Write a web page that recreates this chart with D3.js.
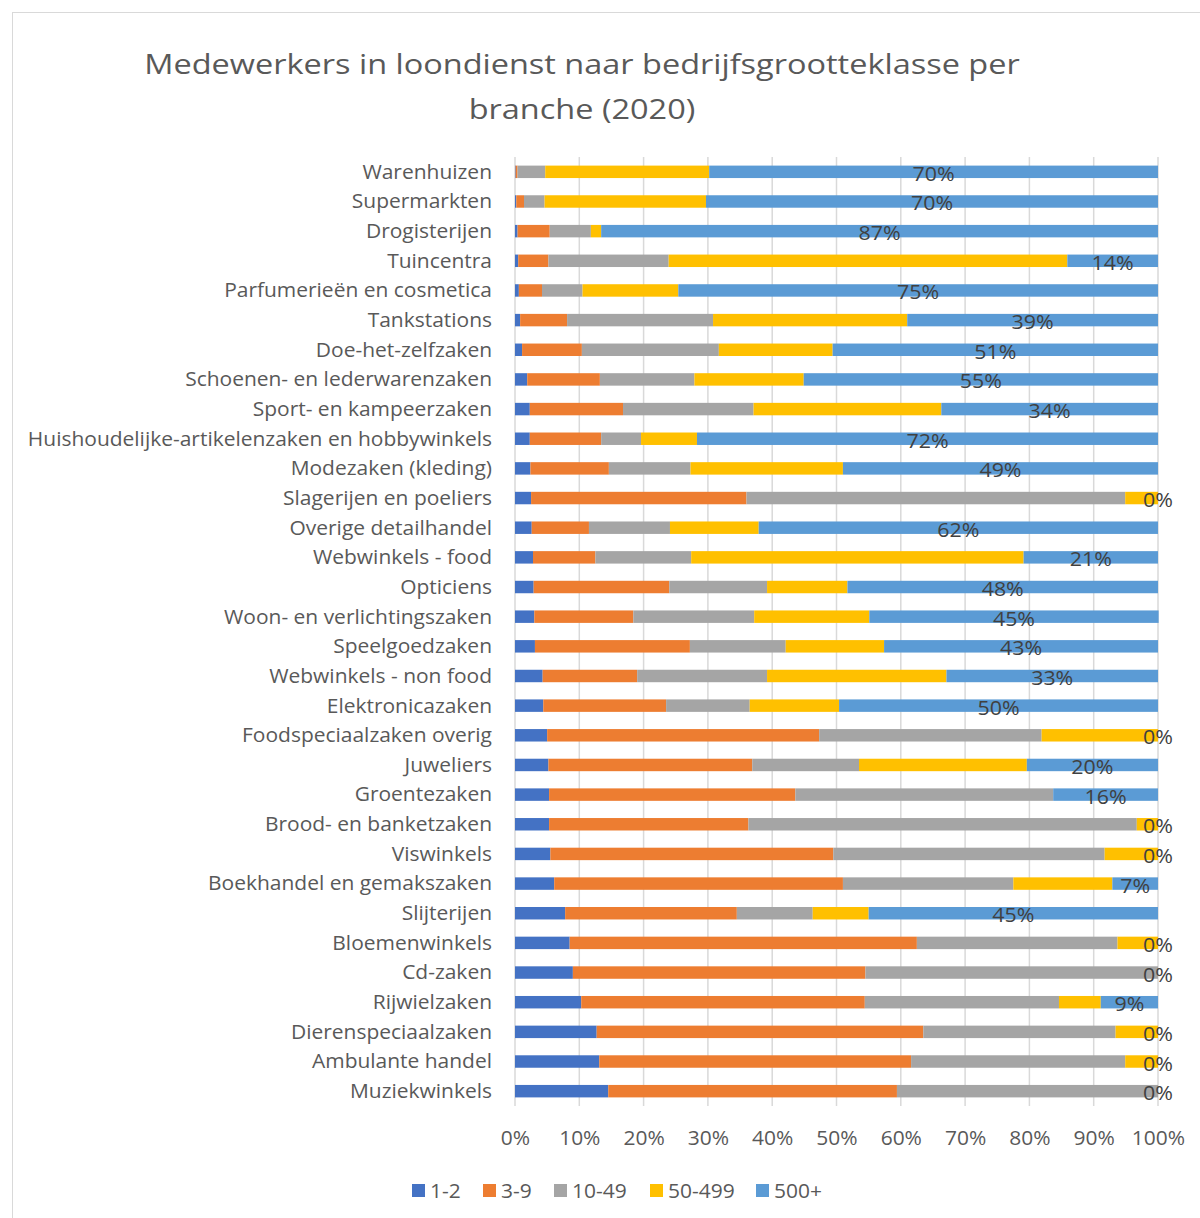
<!DOCTYPE html>
<html>
<head>
<meta charset="utf-8">
<script src="https://cdn.jsdelivr.net/npm/d3@7"></script>
<style>
  html, body { margin: 0; padding: 0; background: #fff; }
  svg { display: block; font-family: "Open Sans", "DejaVu Sans", sans-serif; }
</style>
</head>
<body>
<svg id="chart" width="1200" height="1218"></svg>
<script>
// Branches, top to bottom
const categories = [
  "Warenhuizen", "Supermarkten", "Drogisterijen", "Tuincentra",
  "Parfumerieën en cosmetica", "Tankstations", "Doe-het-zelfzaken",
  "Schoenen- en lederwarenzaken", "Sport- en kampeerzaken",
  "Huishoudelijke-artikelenzaken en hobbywinkels", "Modezaken (kleding)",
  "Slagerijen en poeliers", "Overige detailhandel", "Webwinkels - food",
  "Opticiens", "Woon- en verlichtingszaken", "Speelgoedzaken",
  "Webwinkels - non food", "Elektronicazaken", "Foodspeciaalzaken overig",
  "Juweliers", "Groentezaken", "Brood- en banketzaken", "Viswinkels",
  "Boekhandel en gemakszaken", "Slijterijen", "Bloemenwinkels", "Cd-zaken",
  "Rijwielzaken", "Dierenspeciaalzaken", "Ambulante handel", "Muziekwinkels"
];

// Share of employees (%) per company size class
const size1to2 = [0.1, 0.2, 0.4, 0.5, 0.6, 0.8, 1.1, 1.9, 2.3, 2.3, 2.4, 2.5, 2.6, 2.8, 2.9, 3.0, 3.1, 4.3, 4.4, 5.0, 5.2, 5.3, 5.3, 5.5, 6.1, 7.8, 8.5, 9.0, 10.3, 12.7, 13.1, 14.5];
const size3to9 = [0.3, 1.2, 5.0, 4.7, 3.6, 7.3, 9.3, 11.3, 14.5, 11.1, 12.2, 33.5, 8.9, 9.7, 21.1, 15.4, 24.1, 14.7, 19.1, 42.3, 31.7, 38.3, 31.0, 44.0, 44.9, 26.7, 54.0, 45.5, 44.1, 50.8, 48.5, 44.9];
const size10to49 = [4.3, 3.2, 6.4, 18.7, 6.3, 22.7, 21.3, 14.7, 20.3, 6.2, 12.7, 58.9, 12.6, 14.9, 15.2, 18.8, 14.9, 20.2, 13.0, 34.6, 16.6, 40.1, 60.4, 42.2, 26.5, 11.8, 31.2, 45.5, 30.2, 29.9, 33.3, 40.6];
const size50to499 = [25.5, 25.1, 1.6, 62.0, 14.9, 30.2, 17.7, 17.0, 29.2, 8.7, 23.7, 5.1, 13.8, 51.7, 12.5, 17.9, 15.3, 27.9, 13.9, 18.1, 26.1, 0, 3.3, 8.3, 15.4, 8.7, 6.3, 0, 6.5, 6.6, 5.1, 0];
const size500plus = [69.8, 70.3, 86.6, 14.1, 74.6, 39.0, 50.6, 55.1, 33.7, 71.7, 49.0, 0, 62.1, 20.9, 48.3, 45.0, 42.6, 32.9, 49.6, 0, 20.4, 16.3, 0, 0, 7.1, 45.0, 0, 0, 8.9, 0, 0, 0];

const seriesNames = ["1-2", "3-9", "10-49", "50-499", "500+"];
const seriesColors = ["#4472C4", "#ED7D31", "#A5A5A5", "#FFC000", "#5B9BD5"];
const xTicks = [0, 10, 20, 30, 40, 50, 60, 70, 80, 90, 100];

const titleLines = ["Medewerkers in loondienst naar bedrijfsgrootteklasse per", "branche (2020)"];

const rows = categories.map((name, i) => ({
  name,
  "1-2": size1to2[i],
  "3-9": size3to9[i],
  "10-49": size10to49[i],
  "50-499": size50to499[i],
  "500+": size500plus[i]
}));

const svg = d3.select("#chart");
const W = 1200, H = 1218;

// Text is drawn slightly widened to get the broad letterforms
const TEXT_STRETCH = 1.07;
const TITLE_STRETCH = 1.16;

// Chart area frame
svg.append("rect")
  .attr("x", 12.5).attr("y", 12.5)
  .attr("width", W).attr("height", H)
  .attr("fill", "#fff").attr("stroke", "#d9d9d9").attr("stroke-width", 1);

const plot = { left: 515, right: 1158, top: 157, bottom: 1106 };

const x = d3.scaleLinear().domain([0, 100]).range([plot.left, plot.right]);
const y = d3.scaleBand().domain(categories).range([plot.top, plot.bottom]).paddingInner(0.58).paddingOuter(0.29);

// Title
svg.append("g").selectAll("text")
  .data(titleLines)
  .join("text")
  .attr("transform", (d, i) => `translate(582, ${74 + i * 45}) scale(${TITLE_STRETCH}, 1)`)
  .attr("text-anchor", "middle")
  .attr("fill", "#595959")
  .attr("font-size", 28)
  .text(d => d);

// Vertical gridlines
svg.append("g").selectAll("line")
  .data(xTicks)
  .join("line")
  .attr("x1", d => x(d)).attr("x2", d => x(d))
  .attr("y1", plot.top).attr("y2", plot.bottom)
  .attr("stroke", "#d9d9d9").attr("stroke-width", 1.5);

// Stacked bars
const stack = d3.stack().keys(seriesNames);
const layers = stack(rows);

svg.append("g").selectAll("g")
  .data(layers)
  .join("g")
  .attr("fill", (d, i) => seriesColors[i])
  .selectAll("rect")
  .data(d => d)
  .join("rect")
  .attr("x", d => x(d[0]))
  .attr("y", d => y(d.data.name))
  .attr("width", d => Math.max(0, x(d[1]) - x(d[0])))
  .attr("height", y.bandwidth());

// Category axis labels
svg.append("g").selectAll("text")
  .data(categories)
  .join("text")
  .attr("transform", d => `translate(492, ${y(d) + y.bandwidth() / 2}) scale(${TEXT_STRETCH}, 1)`)
  .attr("dy", "0.35em")
  .attr("text-anchor", "end")
  .attr("fill", "#595959")
  .attr("font-size", 19.6)
  .text(d => d);

// Value labels for the 500+ class
const largestLayer = layers[layers.length - 1];
svg.append("g").selectAll("text")
  .data(largestLayer)
  .join("text")
  .attr("transform", d => `translate(${x((d[0] + d[1]) / 2)}, ${y(d.data.name) + y.bandwidth() / 2 + 2}) scale(${TEXT_STRETCH}, 1)`)
  .attr("dy", "0.35em")
  .attr("text-anchor", "middle")
  .attr("fill", "#404040")
  .attr("font-size", 20)
  .text(d => Math.round(d.data["500+"]) + "%");

// Percentage axis
const xAxis = d3.axisBottom(x).tickValues(xTicks).tickFormat(d => d + "%").tickSize(0).tickPadding(0);
const gx = svg.append("g").attr("transform", `translate(0, 1138)`).call(xAxis);
gx.select(".domain").remove();
gx.selectAll("text")
  .attr("dy", "0.35em")
  .attr("y", 0)
  .attr("transform", `scale(${TEXT_STRETCH}, 1)`)
  .attr("fill", "#595959")
  .attr("font-size", 19.6)
  .attr("font-family", "\"Open Sans\", sans-serif");

// Legend
const legendX = [412, 483, 554, 650, 756];
const legend = svg.append("g").selectAll("g")
  .data(seriesNames)
  .join("g")
  .attr("transform", (d, i) => `translate(${legendX[i]}, 1191)`);
legend.append("rect")
  .attr("x", 0).attr("y", -7)
  .attr("width", 13).attr("height", 13)
  .attr("fill", (d, i) => seriesColors[i]);
legend.append("text")
  .attr("transform", `translate(18, 0) scale(${TEXT_STRETCH}, 1)`)
  .attr("dy", "0.35em")
  .attr("fill", "#595959")
  .attr("font-size", 19.6)
  .text(d => d);
</script>
</body>
</html>
